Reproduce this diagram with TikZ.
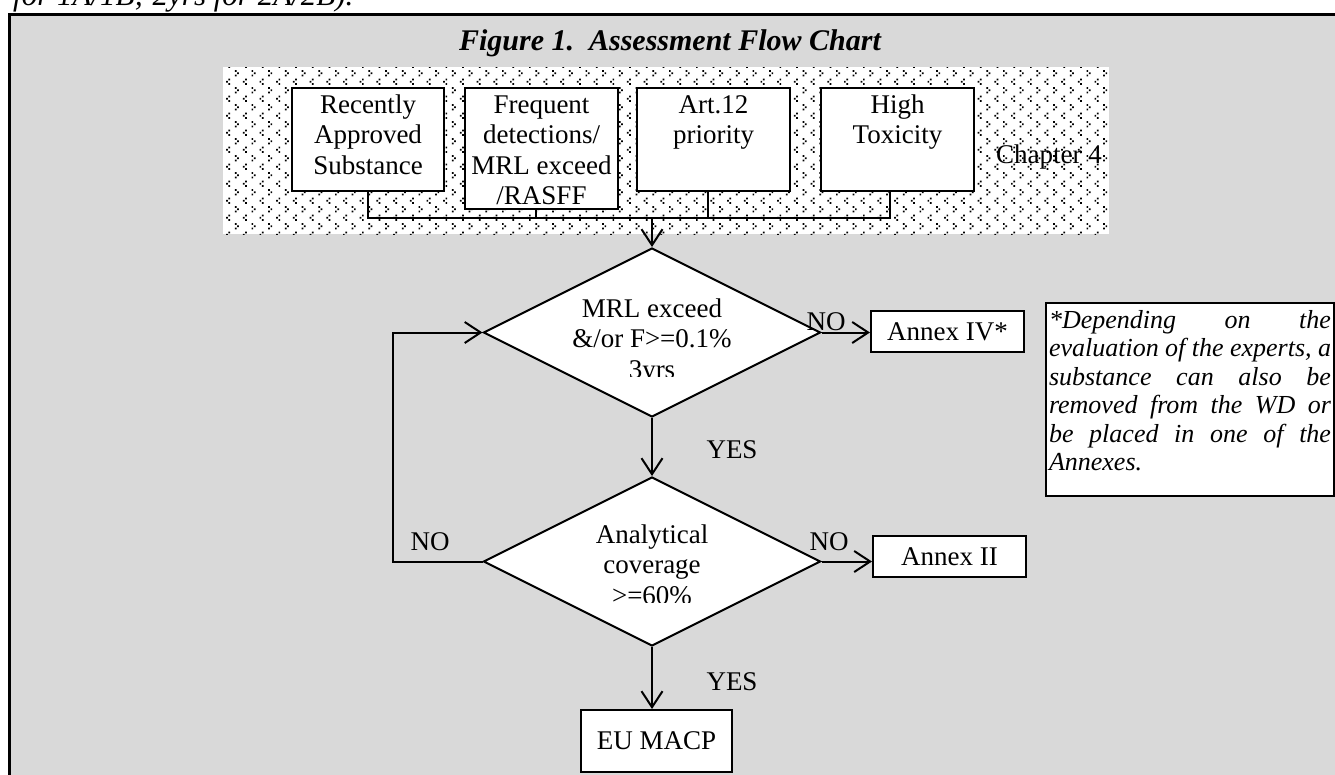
\documentclass[tikz,border=0pt]{standalone}
\usepackage{fontspec}
\setmainfont{Liberation Serif}
\usetikzlibrary{shapes.geometric,arrows.meta,patterns}
\definecolor{panelgray}{RGB}{217,217,217}

% dotted chevron fill of the chapter band
\pgfdeclarepatternformonly{chevdots}{\pgfpoint{-0.1pt}{-0.1pt}}{\pgfpoint{16.8pt}{17.1pt}}{\pgfpoint{16.7pt}{17pt}}{%
  \pgfpathrectangle{\pgfpoint{1pt}{0.6pt}}{\pgfpoint{1.7pt}{1.7pt}}
  \pgfpathrectangle{\pgfpoint{3.3pt}{2.9pt}}{\pgfpoint{1.7pt}{1.7pt}}
  \pgfpathrectangle{\pgfpoint{1pt}{5.2pt}}{\pgfpoint{1.7pt}{1.7pt}}
  \pgfpathrectangle{\pgfpoint{11.3pt}{9.1pt}}{\pgfpoint{1.7pt}{1.7pt}}
  \pgfpathrectangle{\pgfpoint{9pt}{11.4pt}}{\pgfpoint{1.7pt}{1.7pt}}
  \pgfpathrectangle{\pgfpoint{11.3pt}{13.7pt}}{\pgfpoint{1.7pt}{1.7pt}}
  \pgfusepath{fill}
}

\newcommand{\boxtext}[3]{\parbox[t][#1][t]{#2}{\centering\rule{0pt}{25pt}#3}}
\newcommand{\linetext}[2]{\parbox[t]{#1}{\centering\rule{0pt}{25pt}#2}}

\begin{document}
\begin{tikzpicture}[x=1pt, y=-1pt,
  every node/.style={font=\fontsize{27}{30.5}\selectfont, inner sep=0pt},
  line/.style={line width=2pt},
  arrow/.style={line width=2pt, -{Straight Barb[length=16pt, width=21pt]}},
  srcbox/.style={draw, line width=2pt, fill=white, anchor=north west},
  decision/.style={diamond, draw, line width=2pt, fill=white, aspect=2,
    minimum width=337pt, minimum height=169pt},
  annexbox/.style={draw, line width=2pt, fill=white, minimum width=153pt, minimum height=41pt},
  lbl/.style={anchor=base}]
\useasboundingbox (0,0) rectangle (1335,774);
\clip (0,0) rectangle (1335,774);

% Page text and panel
\node[anchor=base west, font=\fontsize{31}{35}\selectfont\itshape] (pretext) at (13,5) {for 1A/1B; 2yrs for 2A/2B).};
\draw[line width=3pt, fill=panelgray] (9,14) rectangle (1360,800);
\node[anchor=base, font=\fontsize{30}{34}\selectfont\bfseries\itshape] (title) at (670,50) {Figure 1.\ \ Assessment Flow Chart};

% Chapter 4 band
\fill[white] (223,67) rectangle (1109,234);
\fill[pattern=chevdots] (223,67) rectangle (1109,234);
\node[lbl] (chapter) at (1049,163) {Chapter 4};

% Entry criteria
\node[srcbox] (box1) at (291,87) {\boxtext{103pt}{152pt}{Recently\\Approved\\Substance}};
\node[srcbox] (box2) at (464,87) {\boxtext{121pt}{153pt}{Frequent\\detections/\\MRL exceed\\/RASFF}};
\node[srcbox] (box3) at (636,87) {\boxtext{103pt}{153pt}{Art.12\\priority}};
\node[srcbox] (box4) at (820,87) {\boxtext{103pt}{153pt}{High\\Toxicity}};

\coordinate (bus) at (652,218);
\coordinate (drop2) at ([xshift=-6pt]box2.south);
\coordinate (drop3) at ([xshift=-6pt]box3.south);
\coordinate (drop4) at ([xshift=-8pt]box4.south);
\draw[line] (box1.south) |- (bus) -| (drop4);
\draw[line] (drop2) -- (drop2 |- bus);
\draw[line] (drop3) -- (drop3 |- bus);

% Decisions
\node[decision] (dec1) at (652,332.5) {};
\node[decision] (dec2) at (652,561.5) {};
\coordinate (cut1) at (0,376);
\coordinate (cut2) at (0,602);
\begin{scope}
\clip (dec1.west |- cut1) rectangle (dec1.north east);
\node[anchor=north] (dec1txt) at (652,292) {\linetext{300pt}{MRL exceed\\\&/or F>=0.1\%\\3yrs}};
\end{scope}
\begin{scope}
\clip (dec2.west |- cut2) rectangle (dec2.north east);
\node[anchor=north] (dec2txt) at (652,518) {\linetext{300pt}{Analytical\\coverage\\>=60\%}};
\end{scope}

% Outcomes
\node[annexbox] (annex4) at (947.5,331.5) {Annex IV*};
\node[annexbox] (annex2) at (949.5,556.5) {Annex II};
\node[annexbox, minimum width=151pt, minimum height=62pt] (macp) at (656.5,741) {EU MACP};
\node[draw, line width=2pt, fill=white, anchor=north west, inner xsep=3pt] (note) at (1045,302)
  {\parbox[t][193pt][t]{282pt}{\fontsize{26}{28.5}\selectfont\itshape\rule{0pt}{25pt}*Depending on the\linebreak
  evaluation of the experts, a\linebreak substance can also be\linebreak removed from the WD or\linebreak
  be placed in one of the\linebreak Annexes.}};

% Connectors
\coordinate (loop) at (393,561.5);
\draw[arrow] (bus) -- (dec1.north);
\draw[arrow] (dec1.east) -- (dec1.east -| annex4.west);
\draw[arrow] (dec1.south) -- (dec2.north);
\draw[arrow] (dec2.east) -- (dec2.east -| annex2.west);
\draw[arrow] (dec2.west) -- (loop) |- (dec1.west);
\draw[arrow] (dec2.south) -- (dec2.south |- macp.north);

% Branch labels
\node[lbl] (no1) at (826,330) {NO};
\node[lbl] (yes1) at (732,458) {YES};
\node[lbl] (no2) at (829,550) {NO};
\node[lbl] (no3) at (430,550) {NO};
\node[lbl] (yes2) at (732,690) {YES};
\end{tikzpicture}
\end{document}
